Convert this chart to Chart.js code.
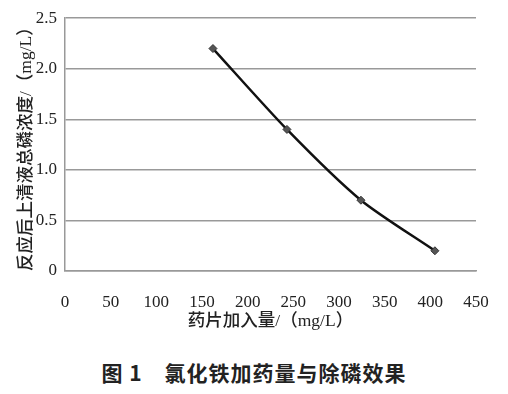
<!DOCTYPE html>
<html>
<head>
<meta charset="utf-8">
<script src="https://cdn.jsdelivr.net/npm/chart.js@4/dist/chart.umd.min.js"></script>
<style>
    body {
        margin: 0;
        background: #fff;
        width: 508px;
        height: 394px;
        overflow: hidden;
    }
    #wrap {
        position: relative;
        width: 508px;
        height: 340px;
    }
    #caption {
        position: absolute;
        left: 0;
        top: 357px;
        width: 508px;
        text-align: center;
        font-family: "Noto Sans CJK SC", sans-serif;
        font-weight: bold;
        font-size: 21px;
        color: #222;
        letter-spacing: 1px;
    }
    #warm {
        position: absolute;
        left: -999px;
        font-family: "Liberation Serif";
    }
</style>
</head>
<body>
<div id="wrap"><canvas id="chart" width="508" height="340"></canvas></div>
<div id="caption">图 1&emsp;氯化铁加药量与除磷效果</div>
<span id="warm">0.5 mg/L</span>

<script>
// values
const dosage = [162, 243, 324, 405];
const phosphorus = [2.2, 1.4, 0.7, 0.2];

const xTitle = "药片加入量/（mg/L）";
const yTitle = "反应后上清液总磷浓度/（mg/L）";

const points =
    dosage.map((x, i) => ({ x: x, y: phosphorus[i] }));

const tickFont = {
    family: "Liberation Serif, Times New Roman, serif",
    size: 17
};

const titleFont = {
    family: "Liberation Serif, Noto Sans CJK SC, serif",
    size: 17.5,
    weight: 500
};

function drawChart() {

    const ctx =
        document.getElementById("chart");

    new Chart(
        ctx,
        {
            type: "line",
            data: {
                datasets: [{
                    data: points,
                    borderColor: "#111",
                    borderWidth: 2.5,
                    tension: 0.25,
                    pointStyle: "rectRot",
                    pointRadius: 4,
                    pointBackgroundColor: "#555",
                    pointBorderColor: "#333",
                    pointBorderWidth: 1
                }]
            },
            options: {
                responsive: false,
                animation: false,
                layout: {
                    padding: { top: 18, right: 32, bottom: 0, left: 0 }
                },
                plugins: {
                    legend: { display: false },
                    tooltip: { enabled: false }
                },
                scales: {
                    x: {
                        type: "linear",
                        min: 0,
                        max: 450,
                        afterFit(scale) {
                            scale.height = 69;
                        },
                        ticks: {
                            stepSize: 50,
                            font: tickFont,
                            color: "#222",
                            padding: 13,
                            maxRotation: 0
                        },
                        grid: { display: false },
                        border: { display: true, color: "#999", width: 1.5 },
                        title: {
                            display: true,
                            text: xTitle,
                            font: titleFont,
                            color: "#222",
                            padding: { top: 0, bottom: 8 }
                        }
                    },
                    y: {
                        min: 0,
                        max: 2.5,
                        afterFit(scale) {
                            scale.width = 65;
                        },
                        ticks: {
                            stepSize: 0.5,
                            font: tickFont,
                            color: "#222",
                            padding: 8,
                            callback: v => v === 0 ? "0" : v.toFixed(1)
                        },
                        grid: {
                            color: "#999",
                            lineWidth: 1.5,
                            drawTicks: false
                        },
                        border: { display: true, color: "#999", width: 1.5 },
                        title: {
                            display: true,
                            text: yTitle,
                            font: titleFont,
                            color: "#222",
                            padding: { top: 16, bottom: 0 }
                        }
                    }
                }
            }
        }
    );
}

document.fonts.load("17px 'Liberation Serif'").then(drawChart, drawChart);
</script>
</body>
</html>
